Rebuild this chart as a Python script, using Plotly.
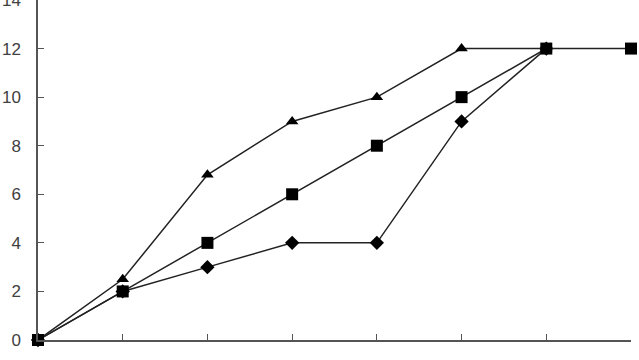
import plotly.graph_objects as go

x_vals = [0, 1, 2, 3, 4, 5, 6, 7]
diamond_vals = [0, 2, 3, 4, 4, 9, 12]
triangle_vals = [0, 2.5, 6.8, 9, 10, 12, 12]
square_vals = [0, 2, 4, 6, 8, 10, 12, 12]
y_ticks = [0, 2, 4, 6, 8, 10, 12, 14]

fig = go.Figure()
line_style = dict(color="#222222", width=1.5)
fig.add_trace(go.Scatter(x=x_vals[:len(diamond_vals)], y=diamond_vals, mode="lines+markers",
                         line=line_style, cliponaxis=False,
                         marker=dict(symbol="diamond", size=11, color="black")))
fig.add_trace(go.Scatter(x=x_vals[:len(triangle_vals)], y=triangle_vals, mode="lines+markers",
                         line=line_style, cliponaxis=False,
                         marker=dict(symbol="triangle-up", size=11, color="black")))
fig.add_trace(go.Scatter(x=x_vals, y=square_vals, mode="lines+markers",
                         line=line_style, cliponaxis=False,
                         marker=dict(symbol="square", size=12, color="black")))

fig.update_layout(
    width=639, height=360,
    margin=dict(l=38, r=8, t=0, b=20),
    paper_bgcolor="white", plot_bgcolor="white",
    showlegend=False,
    font=dict(family="Liberation Sans", size=17, color="#404040"),
)
fig.update_xaxes(range=[0, 7], tickvals=x_vals, showticklabels=False,
                 ticks="inside", ticklen=6, tickcolor="#555555",
                 showline=True, linecolor="#555555", linewidth=1.5,
                 showgrid=False, zeroline=False, automargin=False)
fig.update_yaxes(range=[0, 14], tickvals=y_ticks,
                 ticks="inside", ticklen=6, tickcolor="#555555",
                 showline=True, linecolor="#555555", linewidth=1.5,
                 showgrid=False, zeroline=False, ticklabelstandoff=12,
                 ticklabeloverflow="allow", automargin=False)

fig.write_html("out.html")
